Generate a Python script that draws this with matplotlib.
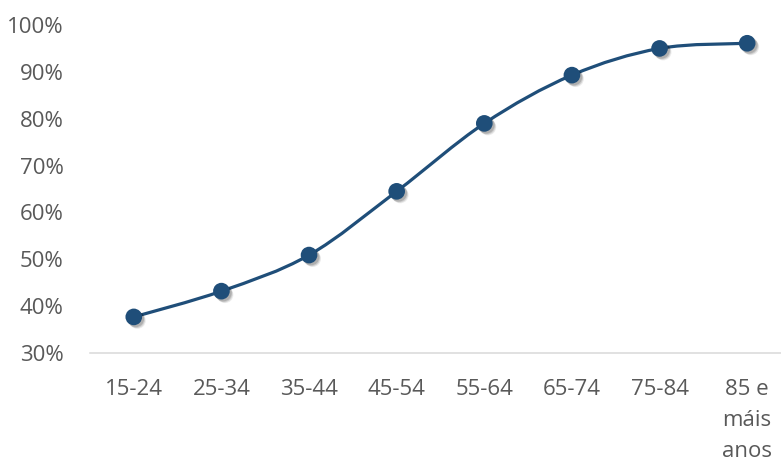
import matplotlib
matplotlib.use('Agg')
import matplotlib.pyplot as plt
import matplotlib.patheffects as pe
from matplotlib.path import Path
from matplotlib.patches import PathPatch
import numpy as np

# age groups and share (%)
categories = ['15-24', '25-34', '35-44', '45-54', '55-64', '65-74', '75-84', '85 e\nmáis\nanos']
values = [37.7, 43.2, 50.9, 64.5, 79.0, 89.3, 95.0, 96.1]
yticks = [30, 40, 50, 60, 70, 80, 90, 100]

LINE_COLOR = '#1F4E79'
TEXT_COLOR = '#595959'
plt.rcParams['font.family'] = ['Open Sans', 'DejaVu Sans']


def smooth_path(xs, ys):
    # Excel-like smoothed line: cubic Bezier segments with Catmull-Rom tangents
    pts = np.column_stack([xs, ys]).astype(float)
    n = len(pts)
    verts = [pts[0]]
    codes = [Path.MOVETO]
    for i in range(n - 1):
        p0 = pts[i - 1] if i > 0 else pts[i]
        p1, p2 = pts[i], pts[i + 1]
        p3 = pts[i + 2] if i + 2 < n else pts[i + 1]
        c1 = p1 + (p2 - p0) / 6.0
        c2 = p2 - (p3 - p1) / 6.0
        verts += [c1, c2, p2]
        codes += [Path.CURVE4] * 3
    return Path(verts, codes)


fig = plt.figure(figsize=(7.81, 4.63), dpi=100)
ax = fig.add_axes([0.1152, 0.2376, 0.8976, 0.7084])

x = np.arange(len(categories))

ax.add_patch(PathPatch(smooth_path(x, values), facecolor='none', edgecolor=LINE_COLOR,
                       lw=2.3, capstyle='round', zorder=2))
# soft marker shadow: a few stacked translucent offsets
marker_shadow = [pe.SimplePatchShadow(offset=(2.6, -2.6), shadow_rgbFace='#000000', alpha=0.08),
                 pe.SimplePatchShadow(offset=(2.0, -2.0), shadow_rgbFace='#000000', alpha=0.12),
                 pe.SimplePatchShadow(offset=(1.4, -1.4), shadow_rgbFace='#000000', alpha=0.15),
                 pe.Normal()]
ax.plot(x, values, linestyle='none', marker='o', markersize=12, color=LINE_COLOR,
        markeredgewidth=0, zorder=3, path_effects=marker_shadow)

ax.set_xlim(-0.5, len(categories) - 0.5)
ax.set_ylim(30, 100)
ax.set_xticks(x)
ax.set_xticklabels(categories, linespacing=1.62, va='top')
ax.set_yticks(yticks)
ax.set_yticklabels([f'{v}%' for v in yticks])

for s in ['top', 'right', 'left']:
    ax.spines[s].set_visible(False)
ax.spines['bottom'].set_color('#D9D9D9')
ax.spines['bottom'].set_linewidth(1.1)
ax.tick_params(axis='both', length=0, labelsize=16, colors=TEXT_COLOR)
ax.tick_params(axis='x', pad=19)
ax.tick_params(axis='y', pad=19)

fig.savefig('out.png', dpi=100)
